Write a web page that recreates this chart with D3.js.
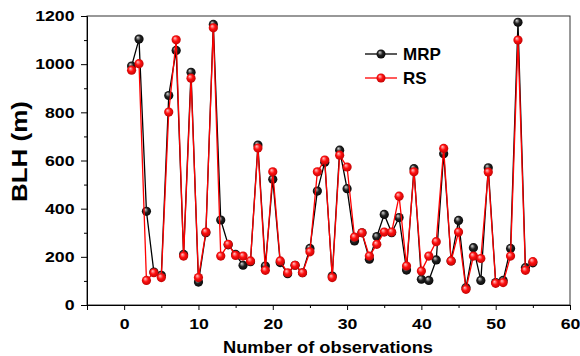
<!DOCTYPE html>
<html lang="en">
<head>
<meta charset="UTF-8">
<title>BLH MRP vs RS</title>
<script src="https://d3js.org/d3.v7.min.js"></script>
<style>
    body { margin: 0; background: #fff; }
    svg text { font-family: "Liberation Sans", Arial, sans-serif; font-weight: bold; }
</style>
</head>
<body>
<svg width="580" height="356"></svg>
<script>
// values
const obs = d3.range(1, 56);
const mrp = [992, 1104, 389, 137, 123, 870, 1057, 210, 966, 95, 300, 1165, 353, 250, 210, 165, 180, 664, 162, 522,
             176, 130, 165, 134, 235, 473, 593, 120, 643, 483, 266, 300, 190, 284, 376, 300, 363, 145, 566, 107,
             102, 187, 628, 183, 351, 72, 238, 102, 570, 93, 102, 235, 1174, 155, 175];
const rs = [975, 1002, 102, 134, 114, 801, 1101, 203, 942, 114, 303, 1151, 203, 252, 206, 203, 183, 652, 144, 553,
            183, 134, 165, 134, 221, 553, 602, 114, 622, 573, 282, 300, 203, 252, 303, 303, 452, 162, 553, 141,
            203, 263, 650, 183, 303, 65, 203, 193, 552, 90, 93, 203, 1100, 144, 180];
const xTicks = [0, 10, 20, 30, 40, 50, 60];
const yTicks = [0, 200, 400, 600, 800, 1000, 1200];
const seriesNames = ["MRP", "RS"];

const svg = d3.select("svg"),
      margin = {top: 16, right: 10, bottom: 51, left: 87},
      width = 580 - margin.left - margin.right,
      height = 356 - margin.top - margin.bottom;

const x = d3.scaleLinear().domain([-5, 60]).range([0, width]);
const y = d3.scaleLinear().domain([0, 1200]).range([height, 0]);

// sphere gradients
const defs = svg.append("defs");
function sphere(id, light, mid, dark) {
    const g = defs.append("radialGradient").attr("id", id)
        .attr("cx", "50%").attr("cy", "50%").attr("r", "60%")
        .attr("fx", "35%").attr("fy", "30%");
    g.append("stop").attr("offset", "0%").attr("stop-color", light);
    g.append("stop").attr("offset", "45%").attr("stop-color", mid);
    g.append("stop").attr("offset", "100%").attr("stop-color", dark);
}
sphere("ballK", "#d8d8d8", "#222", "#000");
sphere("ballR", "#ffc8c8", "#ff1010", "#b00000");

const g = svg.append("g").attr("transform", `translate(${margin.left},${margin.top})`);

// frame
g.append("rect").attr("width", width).attr("height", height)
    .attr("fill", "none").attr("stroke", "#333").attr("stroke-width", 1);

// x axis
g.append("g").attr("transform", `translate(0,${height})`)
    .call(d3.axisBottom(x).tickValues(xTicks).tickSize(5).tickPadding(8).tickFormat(d3.format("d")));
g.append("g").attr("transform", `translate(0,${height})`)
    .call(d3.axisBottom(x).tickValues(d3.range(-5, 60, 10)).tickSize(3).tickFormat(""))
    .select(".domain").remove();

// y axis
g.append("g")
    .call(d3.axisLeft(y).tickValues(yTicks).tickSize(6).tickPadding(4.6).tickFormat(d3.format("d")));
g.append("g")
    .call(d3.axisLeft(y).tickValues(d3.range(100, 1200, 200)).tickSize(3).tickFormat(""))
    .select(".domain").remove();

// the reference glyphs are a bit wider than Liberation Sans
svg.selectAll(".tick text").attr("font-size", 15).attr("fill", "#000")
    .attr("transform", "scale(1.18,1)")
    .style("font-family", "Liberation Sans, Arial, sans-serif").style("font-weight", "bold");
svg.selectAll(".domain").attr("stroke", "#000");

// titles
svg.append("text")
    .attr("x", 223).attr("y", 352.5)
    .attr("font-size", 16)
    .attr("textLength", 210).attr("lengthAdjust", "spacingAndGlyphs")
    .text("Number of observations");
svg.append("text")
    .attr("transform", "translate(27,202) rotate(-90)")
    .attr("font-size", 21.5)
    .attr("textLength", 101).attr("lengthAdjust", "spacingAndGlyphs")
    .text("BLH (m)");

// series
const line = d3.line().x((d, i) => x(obs[i])).y(d => y(d));
const series = [
    {name: seriesNames[0], values: mrp, color: "#000", fill: "url(#ballK)"},
    {name: seriesNames[1], values: rs, color: "#ff0000", fill: "url(#ballR)"}
];

series.forEach(s => {
    g.append("path").datum(s.values)
        .attr("fill", "none").attr("stroke", s.color).attr("stroke-width", 1.3)
        .attr("d", line);
    g.selectAll(null).data(s.values).enter().append("circle")
        .attr("cx", (d, i) => x(obs[i]))
        .attr("cy", d => y(d))
        .attr("r", 4.6)
        .attr("fill", s.fill);
});

// legend
const legend = svg.append("g").attr("transform", "translate(365,54)");
series.forEach((s, i) => {
    const row = legend.append("g").attr("transform", `translate(0,${i * 24})`);
    row.append("line").attr("x1", 0).attr("x2", 32).attr("stroke", s.color).attr("stroke-width", 1.3);
    row.append("circle").attr("cx", 16).attr("r", 4.5).attr("fill", s.fill);
    row.append("text").attr("x", 38).attr("y", 6).attr("font-size", 17).text(s.name);
});
</script>
</body>
</html>
